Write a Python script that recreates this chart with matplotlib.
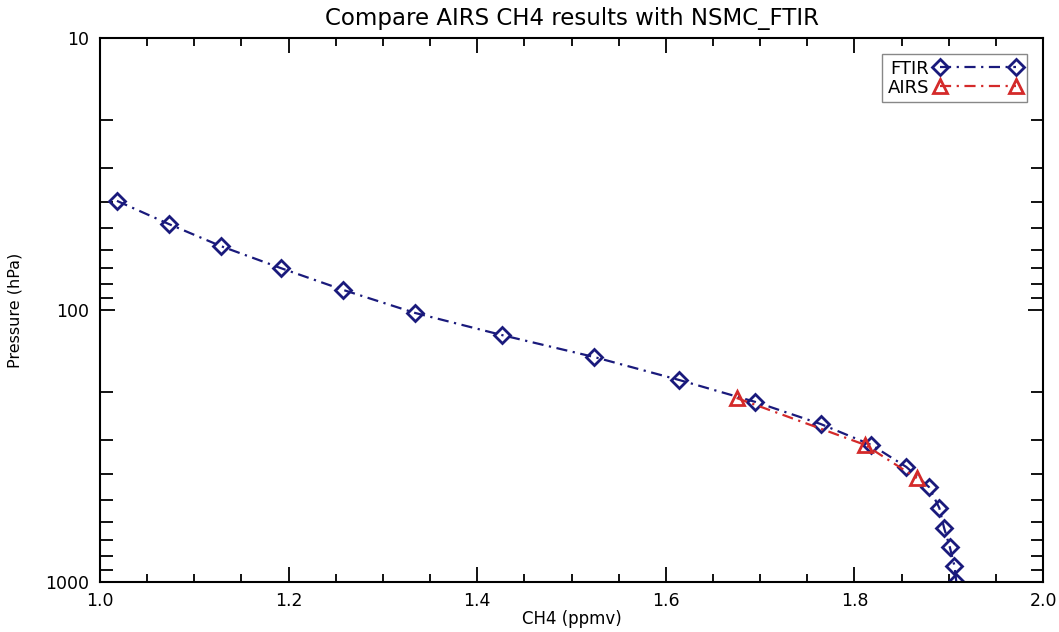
import matplotlib
matplotlib.use("Agg")
import matplotlib.pyplot as plt
from matplotlib.ticker import MultipleLocator, FixedLocator, NullFormatter, FormatStrFormatter

# FTIR profile (CH4 ppmv vs pressure hPa)
ftir_ch4 = [1.018, 1.073, 1.128, 1.192, 1.258, 1.334, 1.426, 1.524, 1.614, 1.695,
            1.764, 1.818, 1.855, 1.879, 1.890, 1.895, 1.901, 1.906, 1.908]
ftir_p = [39.7, 48.3, 58.2, 70.2, 84.4, 102.5, 123.6, 148.9, 180.8, 217.8,
          262.4, 313.5, 377.6, 447.6, 534.9, 632.6, 742.4, 873.0, 1000.0]

# AIRS retrieval
airs_ch4 = [1.675, 1.811, 1.866]
airs_p = [210.6, 313.0, 415.0]

xticks = [1.0, 1.2, 1.4, 1.6, 1.8, 2.0]
yticks = [10, 100, 1000]

NAVY = "#1a1a7c"
RED = "#d42a2a"

plt.rcParams["font.family"] = ["DejaVu Sans"]

fig = plt.figure(figsize=(10.59, 6.32), dpi=100)
ax = fig.add_axes([0.0944, 0.0791, 0.8906, 0.8608])

dash = (0, (5, 2.5, 1, 2.5))
ax.plot(ftir_ch4, ftir_p, color=NAVY, lw=1.6, linestyle=dash,
        marker="D", ms=8.5, mfc="none", mec=NAVY, mew=2.0, label="FTIR")
ax.plot(airs_ch4, airs_p, color=RED, lw=1.6, linestyle=dash,
        marker="^", ms=10, mfc="none", mec=RED, mew=2.0, label="AIRS")

ax.set_yscale("log")
ax.set_xlim(1.0, 2.0)
ax.set_ylim(1000, 10)

ax.xaxis.set_major_locator(FixedLocator(xticks))
ax.xaxis.set_major_formatter(FormatStrFormatter("%.1f"))
ax.xaxis.set_minor_locator(MultipleLocator(0.05))
ax.yaxis.set_major_locator(FixedLocator(yticks))
ax.set_yticklabels([str(t) for t in yticks])
ax.yaxis.set_minor_locator(FixedLocator(
    [m * d for d in (10, 100) for m in range(2, 10)]))
ax.yaxis.set_minor_formatter(NullFormatter())

ax.tick_params(which="both", direction="in", top=True, right=True,
               labelsize=12.5, width=1.3, pad=8)
ax.tick_params(axis="x", pad=7)
ax.tick_params(which="major", length=11)
ax.tick_params(which="minor", length=6)
ax.tick_params(axis="y", which="minor", length=9)
for s in ax.spines.values():
    s.set_linewidth(1.5)

ax.set_title("Compare AIRS CH4 results with NSMC_FTIR", fontsize=16.5, pad=9)
ax.set_xlabel("CH4 (ppmv)", fontsize=12)
ax.xaxis.set_label_coords(0.5, -0.052)
ax.set_ylabel("Pressure (hPa)", fontsize=11.5, labelpad=16)

leg = ax.legend(loc="upper right", markerfirst=False, numpoints=2,
                fontsize=13, handlelength=4.8, handletextpad=0.3,
                borderpad=0.3, labelspacing=0.05, fancybox=False,
                framealpha=1, borderaxespad=0.9)
leg.get_frame().set_edgecolor("#888888")
leg.get_frame().set_linewidth(1.0)

fig.savefig("out.png", dpi=100)
